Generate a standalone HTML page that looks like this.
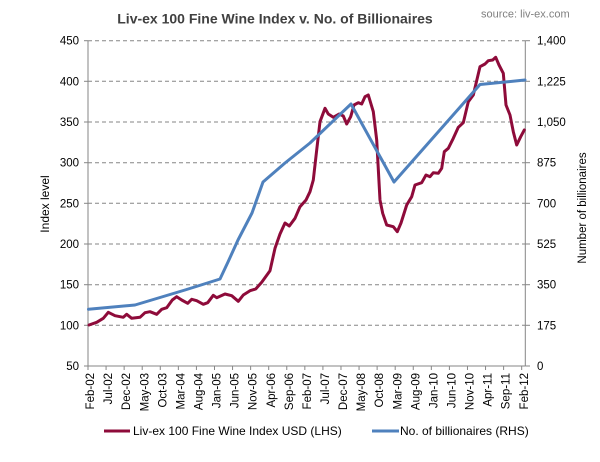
<!DOCTYPE html>
<html>
<head>
<meta charset="utf-8">
<style>
  html,body{margin:0;padding:0;background:#ffffff;}
  svg{display:block;}
  text{font-family:"Liberation Sans",Arial,sans-serif;}
</style>
</head>
<body>
<svg width="600" height="462" viewBox="0 0 600 462" xmlns="http://www.w3.org/2000/svg">
  <rect x="0" y="0" width="600" height="462" fill="#ffffff"/>

  <!-- Title & source -->
  <text x="275" y="23.5" font-size="14" font-weight="bold" fill="#404040" text-anchor="middle">Liv-ex 100 Fine Wine Index v. No. of Billionaires</text>
  <text x="481" y="17.5" font-size="11" fill="#808080">source: liv-ex.com</text>

  <!-- Gridlines -->
  <g stroke="#868686" stroke-width="1" stroke-dasharray="4,3" fill="none">
    <line x1="88" y1="40.7" x2="525.3" y2="40.7"/>
    <line x1="88" y1="81.3" x2="525.3" y2="81.3"/>
    <line x1="88" y1="122" x2="525.3" y2="122"/>
    <line x1="88" y1="162.7" x2="525.3" y2="162.7"/>
    <line x1="88" y1="203.3" x2="525.3" y2="203.3"/>
    <line x1="88" y1="244" x2="525.3" y2="244"/>
    <line x1="88" y1="284.7" x2="525.3" y2="284.7"/>
    <line x1="88" y1="325.3" x2="525.3" y2="325.3"/>
  </g>

  <!-- Axes -->
  <g stroke="#868686" stroke-width="1" fill="none">
    <line x1="88" y1="40.7" x2="88" y2="366"/>
    <line x1="525.3" y1="40.7" x2="525.3" y2="366"/>
    <line x1="88" y1="366" x2="525.3" y2="366"/>
    <!-- left ticks -->
    <line x1="84" y1="40.7" x2="88" y2="40.7"/>
    <line x1="84" y1="81.3" x2="88" y2="81.3"/>
    <line x1="84" y1="122" x2="88" y2="122"/>
    <line x1="84" y1="162.7" x2="88" y2="162.7"/>
    <line x1="84" y1="203.3" x2="88" y2="203.3"/>
    <line x1="84" y1="244" x2="88" y2="244"/>
    <line x1="84" y1="284.7" x2="88" y2="284.7"/>
    <line x1="84" y1="325.3" x2="88" y2="325.3"/>
    <line x1="84" y1="366" x2="88" y2="366"/>
    <!-- right ticks -->
    <line x1="525.3" y1="40.7" x2="530" y2="40.7"/>
    <line x1="525.3" y1="81.3" x2="530" y2="81.3"/>
    <line x1="525.3" y1="122" x2="530" y2="122"/>
    <line x1="525.3" y1="162.7" x2="530" y2="162.7"/>
    <line x1="525.3" y1="203.3" x2="530" y2="203.3"/>
    <line x1="525.3" y1="244" x2="530" y2="244"/>
    <line x1="525.3" y1="284.7" x2="530" y2="284.7"/>
    <line x1="525.3" y1="325.3" x2="530" y2="325.3"/>
    <line x1="525.3" y1="366" x2="530" y2="366"/>
    <!-- bottom ticks -->
    <line x1="88" y1="366" x2="88" y2="370"/>
    <line x1="106.07" y1="366" x2="106.07" y2="370"/>
    <line x1="124.14" y1="366" x2="124.14" y2="370"/>
    <line x1="142.21" y1="366" x2="142.21" y2="370"/>
    <line x1="160.28" y1="366" x2="160.28" y2="370"/>
    <line x1="178.35" y1="366" x2="178.35" y2="370"/>
    <line x1="196.42" y1="366" x2="196.42" y2="370"/>
    <line x1="214.49" y1="366" x2="214.49" y2="370"/>
    <line x1="232.56" y1="366" x2="232.56" y2="370"/>
    <line x1="250.63" y1="366" x2="250.63" y2="370"/>
    <line x1="268.7" y1="366" x2="268.7" y2="370"/>
    <line x1="286.77" y1="366" x2="286.77" y2="370"/>
    <line x1="304.84" y1="366" x2="304.84" y2="370"/>
    <line x1="322.91" y1="366" x2="322.91" y2="370"/>
    <line x1="340.98" y1="366" x2="340.98" y2="370"/>
    <line x1="359.05" y1="366" x2="359.05" y2="370"/>
    <line x1="377.12" y1="366" x2="377.12" y2="370"/>
    <line x1="395.19" y1="366" x2="395.19" y2="370"/>
    <line x1="413.26" y1="366" x2="413.26" y2="370"/>
    <line x1="431.33" y1="366" x2="431.33" y2="370"/>
    <line x1="449.4" y1="366" x2="449.4" y2="370"/>
    <line x1="467.47" y1="366" x2="467.47" y2="370"/>
    <line x1="485.54" y1="366" x2="485.54" y2="370"/>
    <line x1="503.61" y1="366" x2="503.61" y2="370"/>
    <line x1="521.68" y1="366" x2="521.68" y2="370"/>
  </g>

  <!-- Left axis labels -->
  <g font-size="11.5" fill="#000000" text-anchor="end">
    <text x="79" y="44.7">450</text>
    <text x="79" y="85.3">400</text>
    <text x="79" y="126">350</text>
    <text x="79" y="166.7">300</text>
    <text x="79" y="207.3">250</text>
    <text x="79" y="248">200</text>
    <text x="79" y="288.7">150</text>
    <text x="79" y="329.3">100</text>
    <text x="79" y="370">50</text>
  </g>

  <!-- Right axis labels -->
  <g font-size="11.5" fill="#000000">
    <text x="537" y="44.7">1,400</text>
    <text x="537" y="85.3">1,225</text>
    <text x="537" y="126">1,050</text>
    <text x="537" y="166.7">875</text>
    <text x="537" y="207.3">700</text>
    <text x="537" y="248">525</text>
    <text x="537" y="288.7">350</text>
    <text x="537" y="329.3">175</text>
    <text x="537" y="370">0</text>
  </g>

  <!-- Axis titles -->
  <text transform="translate(49,204) rotate(-90)" font-size="12" fill="#000000" text-anchor="middle">Index level</text>
  <text transform="translate(586,208) rotate(-90)" font-size="11.5" fill="#000000" text-anchor="middle">Number of billionaires</text>

  <!-- X labels -->
  <g font-size="11.5" fill="#000000" text-anchor="end">
    <text transform="translate(94.1,373) rotate(-90)">Feb-02</text>
    <text transform="translate(112.17,373) rotate(-90)">Jul-02</text>
    <text transform="translate(130.24,373) rotate(-90)">Dec-02</text>
    <text transform="translate(148.31,373) rotate(-90)">May-03</text>
    <text transform="translate(166.38,373) rotate(-90)">Oct-03</text>
    <text transform="translate(184.45,373) rotate(-90)">Mar-04</text>
    <text transform="translate(202.52,373) rotate(-90)">Aug-04</text>
    <text transform="translate(220.59,373) rotate(-90)">Jan-05</text>
    <text transform="translate(238.66,373) rotate(-90)">Jun-05</text>
    <text transform="translate(256.73,373) rotate(-90)">Nov-05</text>
    <text transform="translate(274.8,373) rotate(-90)">Apr-06</text>
    <text transform="translate(292.87,373) rotate(-90)">Sep-06</text>
    <text transform="translate(310.94,373) rotate(-90)">Feb-07</text>
    <text transform="translate(329.01,373) rotate(-90)">Jul-07</text>
    <text transform="translate(347.08,373) rotate(-90)">Dec-07</text>
    <text transform="translate(365.15,373) rotate(-90)">May-08</text>
    <text transform="translate(383.22,373) rotate(-90)">Oct-08</text>
    <text transform="translate(401.29,373) rotate(-90)">Mar-09</text>
    <text transform="translate(419.36,373) rotate(-90)">Aug-09</text>
    <text transform="translate(437.43,373) rotate(-90)">Jan-10</text>
    <text transform="translate(455.5,373) rotate(-90)">Jun-10</text>
    <text transform="translate(473.57,373) rotate(-90)">Nov-10</text>
    <text transform="translate(491.64,373) rotate(-90)">Apr-11</text>
    <text transform="translate(509.71,373) rotate(-90)">Sep-11</text>
    <text transform="translate(527.78,373) rotate(-90)">Feb-12</text>
  </g>

  <!-- Liv-ex series (red) -->
  <polyline fill="none" stroke="#8E0B3A" stroke-width="3" stroke-linejoin="round" stroke-linecap="round"
    points="89,325 96.7,322.3 103.3,318.3 108.3,312.3 115,315.7 123.3,317.3 126.7,314.3 131.7,318.3 140,317.3 145,312.7 150,311.7 156.7,314.3 161.7,309.3 166.7,307.7 172.3,300 176.7,296.7 181.7,300 187.7,303.3 191.7,299.3 196.7,300.7 203.3,304.3 207.7,302.7 213.3,295.3 216.7,297.7 225,294 231.7,295.7 238.3,301.3 243.3,295 250,290.7 255.7,289 261.7,282.3 270,270.7 275,248.3 280,234 285,223 289.3,226 295,218.3 300,206.7 306,200 310,191.7 313.3,180 316.7,150 320,121.7 325,108.3 328.3,114 333.3,117.3 339.3,114 343.3,116 346.7,124 350.7,116.7 354,105 358.3,102.7 361.7,104 365,96.7 368.3,95 373.3,111.7 376.7,140 380,200 382.7,213.3 386.7,225 393.3,226.7 397.3,231.7 401,223 406.7,205 411.7,196.7 415,185 421.7,182.7 426,175 430,176.7 433.3,172.7 438.3,173.3 441.7,168.3 444.3,151.7 448.3,148.3 453.3,138.3 458.3,127.3 463.3,122.7 468.3,101.7 473.3,95 480,66.7 485,64 488.3,60.7 492.7,60 495.7,57.3 499,65 503.3,73.3 506,105 510,115 513.3,131.7 516.7,145 520.7,136.7 524.3,130"/>

  <!-- Billionaires series (blue) -->
  <polyline fill="none" stroke="#4F81BD" stroke-width="3" stroke-linejoin="round" stroke-linecap="round"
    points="88.5,309.3 135,305 165,296 185,290 201,285 220,279 228,262 238,240 252,213 263,182 285,163 310,143 351,104 394,182 480,84.5 525,80"/>

  <!-- Legend -->
  <line x1="104" y1="431" x2="130" y2="431" stroke="#8E0B3A" stroke-width="3"/>
  <text x="133" y="435" font-size="12" fill="#000000">Liv-ex 100 Fine Wine Index USD (LHS)</text>
  <line x1="372" y1="431" x2="399" y2="431" stroke="#4F81BD" stroke-width="3"/>
  <text x="400" y="435" font-size="12" fill="#000000">No. of billionaires (RHS)</text>
</svg>
</body>
</html>
